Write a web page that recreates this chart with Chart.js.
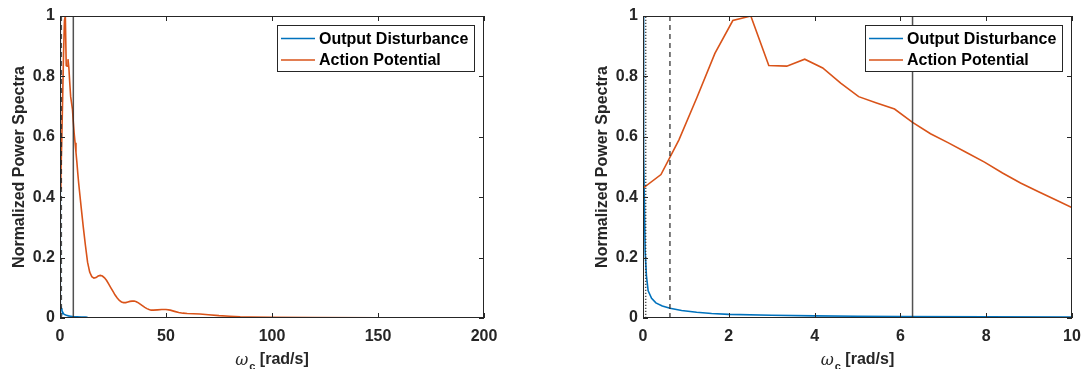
<!DOCTYPE html>
<html><head><meta charset="utf-8">
<script src="https://cdn.jsdelivr.net/npm/chart.js@4.4.1/dist/chart.umd.min.js"></script>
<style>
html,body{margin:0;padding:0;background:#fff;}
#w{position:relative;width:1082px;height:369px;overflow:hidden;}
canvas{position:absolute;top:0;}
</style>
</head><body>
<div id="w">
<canvas id="c1" width="541" height="369" style="left:0;width:541px;height:369px"></canvas>
<canvas id="c2" width="541" height="369" style="left:541px;width:541px;height:369px"></canvas>
</div>
<script>
// ---- data ----
const seriesNames = ['Output Disturbance', 'Action Potential'];
const blueOmega = [0, 0.01, 0.02, 0.03, 0.05, 0.08, 0.12, 0.2, 0.3, 0.45, 0.63, 0.9, 1.25, 1.6, 2, 3, 4, 5, 6, 8, 10, 12, 13];
const bluePower = [1, 0.75, 0.55, 0.4, 0.22, 0.14, 0.09, 0.065, 0.05, 0.04, 0.032, 0.025, 0.019, 0.015, 0.012, 0.009, 0.007, 0.006, 0.005, 0.004, 0.003, 0.003, 0.002];
const orangeOmega = [0, 0.419, 0.838, 1.257, 1.676, 2.094, 2.513, 2.932, 3.351, 3.77, 4.189, 4.608, 5.027, 5.445, 5.864, 6.283, 6.702, 7.12, 7.54, 7.96, 8.38, 8.80, 9.22, 9.64, 10.05,
  11, 12, 13, 14, 15, 16, 17, 18, 19, 20, 21, 22, 23, 24, 25, 26, 27, 28, 29, 30, 31, 32, 33, 34, 35, 36, 37, 38, 39, 40, 41, 42, 43, 44, 46, 48, 50, 52, 54, 56, 58, 60, 63, 66, 70, 75, 80, 85, 90, 100, 120, 150, 200];
const orangePower = [0.43, 0.475, 0.59, 0.73, 0.876, 0.985, 1.0, 0.836, 0.834, 0.857, 0.828, 0.778, 0.733, 0.712, 0.692, 0.648, 0.61, 0.58, 0.548, 0.516, 0.48, 0.447, 0.418, 0.39, 0.362,
  0.3, 0.24, 0.185, 0.152, 0.137, 0.132, 0.134, 0.139, 0.141, 0.139, 0.133, 0.124, 0.112, 0.1, 0.088, 0.076, 0.066, 0.058, 0.053, 0.051, 0.051, 0.053, 0.055, 0.056, 0.056, 0.054, 0.05, 0.045, 0.04, 0.035, 0.031, 0.028, 0.026, 0.026, 0.027, 0.028, 0.028, 0.026, 0.022, 0.018, 0.016, 0.015, 0.014, 0.013, 0.011, 0.008, 0.006, 0.004, 0.003, 0.002, 0.0015, 0.001, 0.001];
const markerOmega = [0.0628, 0.628, 6.283];     // dotted, dashed, solid reference lines
const markerSpan = [0, 1];
const leftXTicks = [0, 50, 100, 150, 200];
const rightXTicks = [0, 2, 4, 6, 8, 10];
const yTicks = [0, 0.2, 0.4, 0.6, 0.8, 1];
const yTitle = 'Normalized Power Spectra';
const xTitleParts = ['ω', 'c', ' [rad/s]'];

// ---- styling ----
const BLUE = '#0072BD', ORANGE = '#D95319', AX = '#262626';
const FONT = '"Liberation Sans", Arial, Helvetica, sans-serif';
const markerDash = [[1.2, 1.8], [5, 4], []];

function pts(xs, ys) { return xs.map((x, i) => ({x: x, y: ys[i]})); }

const decorPlugin = {
  id: 'decor',
  afterDatasetsDraw(chart) {
    const ctx = chart.ctx, ca = chart.chartArea;
    const xs = chart.scales.x, ys = chart.scales.y;
    ctx.save();
    // box
    ctx.strokeStyle = AX; ctx.lineWidth = 1;
    ctx.strokeRect(Math.round(ca.left) + 0.5, Math.round(ca.top) + 0.5, Math.round(ca.right - ca.left) - 1, Math.round(ca.bottom - ca.top) - 1);
    // inward ticks
    ctx.beginPath();
    const tl = 5;
    chart.options.plugins.decor.xTicks.forEach(v => {
      const p = Math.round(xs.getPixelForValue(v)) + 0.5;
      ctx.moveTo(p, ca.bottom); ctx.lineTo(p, ca.bottom - tl);
      ctx.moveTo(p, ca.top); ctx.lineTo(p, ca.top + tl);
    });
    yTicks.forEach(v => {
      const p = Math.round(ys.getPixelForValue(v)) + 0.5;
      ctx.moveTo(ca.left, p); ctx.lineTo(ca.left + tl, p);
      ctx.moveTo(ca.right, p); ctx.lineTo(ca.right - tl, p);
    });
    ctx.stroke();

    // legend
    const lw = 198, lh = 47;
    const lx = Math.round(ca.right) - 9 - lw, ly = Math.round(ca.top) + 9;
    ctx.fillStyle = '#fff';
    ctx.fillRect(lx, ly, lw, lh);
    ctx.strokeStyle = AX; ctx.lineWidth = 1;
    ctx.strokeRect(lx + 0.5, ly + 0.5, lw - 1, lh - 1);
    const ds = chart.data.datasets.filter(d => d.inLegend);
    ds.forEach((d, i) => {
      const yy = ly + 13.5 + i * 21.5;
      ctx.strokeStyle = d.borderColor; ctx.lineWidth = 1.6;
      ctx.beginPath(); ctx.moveTo(lx + 4, yy); ctx.lineTo(lx + 38, yy); ctx.stroke();
      ctx.fillStyle = '#000';
      ctx.font = 'bold 16px ' + FONT;
      ctx.textBaseline = 'middle'; ctx.textAlign = 'left';
      ctx.fillText(d.label, lx + 42, yy + 1);
    });

    // y title
    ctx.fillStyle = AX;
    ctx.font = 'bold 16px ' + FONT;
    ctx.save();
    ctx.translate(ca.left - 40, (ca.top + ca.bottom) / 2);
    ctx.rotate(-Math.PI / 2);
    ctx.textAlign = 'center'; ctx.textBaseline = 'middle';
    ctx.fillText(yTitle, 0, 0);
    ctx.restore();

    // x title with subscript
    const fW = 'italic 16px "DejaVu Serif", "Liberation Serif", serif';
    const fS = 'bold 11px ' + FONT;
    const fT = 'bold 16px ' + FONT;
    ctx.font = fW; const w1 = ctx.measureText(xTitleParts[0]).width;
    ctx.font = fS; const w2 = ctx.measureText(xTitleParts[1]).width;
    ctx.font = fT; const w3 = ctx.measureText(xTitleParts[2]).width;
    let x0 = (ca.left + ca.right) / 2 - (w1 + 1 + w2 + w3) / 2;
    const base = 364;
    ctx.textAlign = 'left'; ctx.textBaseline = 'alphabetic';
    ctx.font = fW; ctx.fillText(xTitleParts[0], x0, base + 1); x0 += w1 + 1;
    ctx.font = fS; ctx.fillText(xTitleParts[1], x0, base + 6); x0 += w2;
    ctx.font = fT; ctx.fillText(xTitleParts[2], x0, base);
    ctx.restore();
  }
};

function makeChart(id, xMax, xTicks, padL, padR) {
  const datasets = [];
  markerOmega.forEach((m, i) => {
    datasets.push({
      label: 'marker' + i,
      data: pts([m, m], markerSpan),
      borderColor: 'rgba(38,38,38,0.8)',
      borderWidth: 1.5,
      borderDash: markerDash[i],
      pointRadius: 0, fill: false, order: 0, inLegend: false
    });
  });
  datasets.push({
    label: seriesNames[0], data: pts(blueOmega, bluePower),
    borderColor: BLUE, borderWidth: 1.6, pointRadius: 0, fill: false, order: 2, inLegend: true, tension: 0
  });
  datasets.push({
    label: seriesNames[1], data: pts(orangeOmega, orangePower),
    borderColor: ORANGE, borderWidth: 1.6, pointRadius: 0, fill: false, order: 1, inLegend: true, tension: 0
  });
  return new Chart(document.getElementById(id), {
    type: 'line',
    data: {datasets: datasets},
    options: {
      responsive: false, animation: false, devicePixelRatio: 1,
      layout: {padding: {left: padL, right: padR, top: 16, bottom: 0}},
      plugins: {legend: {display: false}, tooltip: {enabled: false}, decor: {xTicks: xTicks}},
      scales: {
        x: {
          type: 'linear', min: 0, max: xMax,
          grid: {display: false, drawTicks: false}, border: {display: false},
          afterBuildTicks: s => { s.ticks = xTicks.map(v => ({value: v})); },
          afterFit: s => { s.height = 51; s.paddingLeft = 0; s.paddingRight = 0; },
          ticks: {color: AX, font: {family: FONT, size: 16, weight: 'bold'}, padding: 9, maxRotation: 0, autoSkip: false,
                  callback: v => String(v)}
        },
        y: {
          type: 'linear', min: 0, max: 1,
          grid: {display: false, drawTicks: false}, border: {display: false},
          afterBuildTicks: s => { s.ticks = yTicks.map(v => ({value: v})); },
          afterFit: s => { s.width = 60; s.paddingTop = 0; s.paddingBottom = 0; },
          ticks: {color: AX, font: {family: FONT, size: 16, weight: 'bold'}, padding: 5, autoSkip: false,
                  callback: v => String(+Number(v).toFixed(1))}
        }
      }
    },
    plugins: [decorPlugin]
  });
}

makeChart('c1', 200, leftXTicks, 0, 57);
makeChart('c2', 10, rightXTicks, 42, 10);
</script>
</body></html>
